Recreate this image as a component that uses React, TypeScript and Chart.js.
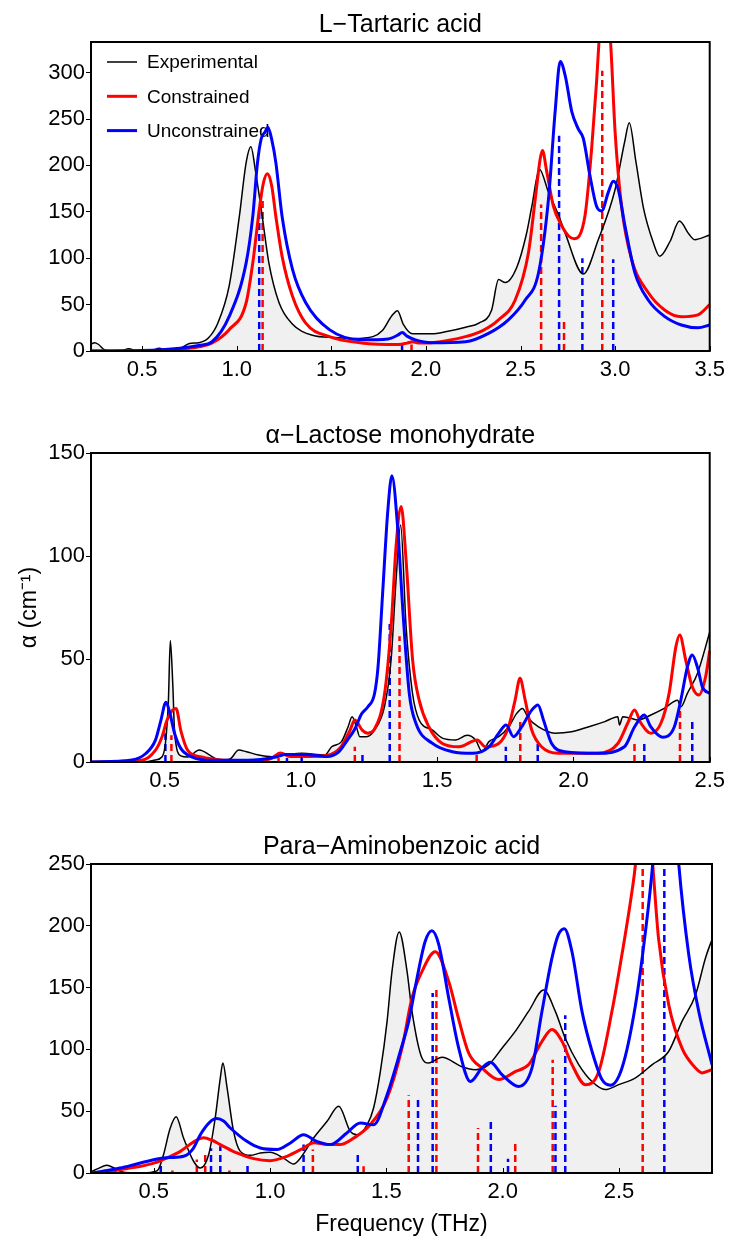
import React, { useEffect, useRef } from 'react';
import { Chart, registerables } from 'chart.js';

Chart.register(...registerables);

const FONT = "'Liberation Sans', Arial, Helvetica, sans-serif";
const RED = '#ff0000';
const BLUE = '#0000ff';
const BLACK = '#000000';
const FILL = '#f0f0f0';

type Pt = [number, number];

// ---------- L-Tartaric acid ----------
const tartaricXTicks = [0.5, 1.0, 1.5, 2.0, 2.5, 3.0, 3.5];
const tartaricYTicks = [0, 50, 100, 150, 200, 250, 300];
const tartaricExperimental: Pt[] = [
  [0.23, 7.5], [0.25, 9], [0.27, 7], [0.3, 1.5], [0.33, 0.3], [0.39, 0.5], [0.43, 2.5], [0.47, 0.5],
  [0.55, 0.5], [0.59, 3], [0.63, 0.8], [0.7, 2.5], [0.75, 8], [0.8, 9], [0.85, 14], [0.9, 30],
  [0.96, 70], [1.014, 145], [1.05, 203], [1.075, 220], [1.1, 193], [1.135, 145], [1.17, 95],
  [1.224, 52], [1.29, 30], [1.4, 17], [1.52, 14.5], [1.62, 13.5], [1.72, 15.5], [1.77, 22],
  [1.82, 38], [1.85, 43.5], [1.88, 29], [1.93, 18.5], [2.03, 18.5], [2.11, 21], [2.21, 25.7],
  [2.28, 30], [2.347, 44], [2.384, 77], [2.42, 73.7], [2.48, 90], [2.53, 125], [2.56, 156],
  [2.6, 196], [2.648, 171], [2.7, 147], [2.736, 127], [2.832, 83], [2.911, 120], [3.0, 174],
  [3.05, 225], [3.075, 246], [3.11, 204], [3.15, 154], [3.2, 118], [3.236, 102], [3.29, 118],
  [3.34, 140], [3.39, 126], [3.42, 120], [3.5, 125],
];
const tartaricConstrained: Pt[] = [
  [0.23, 0], [0.5, 0.3], [0.7, 2], [0.8, 4.5], [0.87, 8.7], [0.96, 23], [1.05, 52], [1.085, 95],
  [1.12, 153], [1.14, 180], [1.162, 191], [1.185, 178], [1.207, 145], [1.24, 102], [1.295, 59],
  [1.365, 30], [1.49, 15.5], [1.66, 8.7], [1.857, 7], [1.9, 8.5], [1.93, 10], [1.96, 8.5],
  [2.03, 9], [2.209, 15.5], [2.3, 22], [2.384, 33.6], [2.472, 55], [2.542, 106], [2.578, 164],
  [2.604, 207], [2.616, 216], [2.639, 193], [2.674, 156], [2.718, 135], [2.754, 124], [2.783, 121],
  [2.841, 146], [2.876, 218], [2.902, 290], [2.915, 333], [2.945, 400], [2.976, 333], [3.0, 236],
  [3.034, 156], [3.087, 99], [3.175, 63], [3.263, 44], [3.35, 37], [3.438, 39], [3.5, 50],
];
const tartaricUnconstrained: Pt[] = [
  [0.23, 0], [0.5, 0.5], [0.7, 3], [0.8, 6], [0.87, 10], [0.96, 37], [1.05, 95], [1.085, 145],
  [1.11, 203], [1.13, 229], [1.15, 236], [1.165, 241], [1.185, 228], [1.207, 203], [1.24, 145],
  [1.295, 88], [1.365, 52], [1.49, 23], [1.66, 12], [1.8, 13], [1.85, 17], [1.875, 20], [1.9, 16],
  [1.945, 12], [2.03, 9], [2.209, 10], [2.331, 19], [2.436, 33.6], [2.525, 55], [2.595, 84],
  [2.648, 164], [2.683, 258], [2.71, 312], [2.736, 297], [2.771, 258], [2.806, 239], [2.832, 229],
  [2.867, 189], [2.902, 156], [2.929, 151], [2.964, 171], [2.99, 183], [3.017, 174], [3.052, 135],
  [3.105, 84], [3.175, 55], [3.263, 37], [3.35, 28], [3.438, 25], [3.5, 28],
];
const tartaricConstrainedModes: Pt[] = [[1.137, 165], [1.924, 7], [2.609, 158], [2.73, 32], [2.932, 302]];
const tartaricUnconstrainedModes: Pt[] = [[1.119, 150], [1.874, 9], [2.704, 232], [2.827, 100], [2.99, 99]];

// ---------- alpha-Lactose monohydrate ----------
const lactoseXTicks = [0.5, 1.0, 1.5, 2.0, 2.5];
const lactoseYTicks = [0, 50, 100, 150];
const lactoseExperimental: Pt[] = [
  [0.23, 0], [0.43, 0], [0.466, 1], [0.49, 2.4], [0.503, 9], [0.514, 30], [0.521, 59], [0.53, 38],
  [0.537, 14], [0.56, 3], [0.585, 2.4], [0.627, 5.8], [0.67, 3], [0.7, 1], [0.74, 1.5], [0.772, 5.8],
  [0.8, 5], [0.845, 3.4], [0.894, 2.6], [0.95, 3.5], [1.003, 4.2], [1.088, 3.4], [1.113, 7.4],
  [1.149, 9.9], [1.173, 17], [1.188, 22], [1.204, 17], [1.216, 12.3], [1.24, 12.3], [1.27, 15.5],
  [1.307, 27], [1.331, 49.5], [1.35, 90], [1.366, 115], [1.386, 66], [1.41, 33], [1.434, 20.4],
  [1.483, 15.5], [1.519, 11.6], [1.568, 10.7], [1.61, 13], [1.641, 10.7], [1.665, 5], [1.69, 9.9],
  [1.726, 12.3], [1.762, 17], [1.792, 23.6], [1.813, 26], [1.835, 21.2], [1.872, 17], [1.932, 14],
  [1.993, 14.7], [2.054, 17], [2.115, 19.6], [2.163, 22], [2.169, 18], [2.181, 22], [2.211, 21.2],
  [2.236, 20.4], [2.284, 22.8], [2.333, 26], [2.382, 30], [2.394, 26.8], [2.418, 33.3], [2.455, 43],
  [2.5, 63],
];
const lactoseConstrained: Pt[] = [
  [0.23, 0], [0.415, 0.8], [0.466, 5.6], [0.49, 12], [0.508, 20], [0.525, 24.5], [0.542, 26],
  [0.56, 15], [0.585, 5.6], [0.636, 2.4], [0.72, 0.8], [0.823, 0.3], [0.89, 1.6], [0.925, 4.4],
  [0.96, 2.7], [1.01, 2.7], [1.096, 3.2], [1.147, 7.3], [1.18, 15.3], [1.198, 20.4], [1.225, 15.5],
  [1.246, 14], [1.27, 16], [1.307, 33], [1.331, 65.7], [1.35, 106], [1.368, 124], [1.386, 98],
  [1.41, 49.5], [1.434, 30], [1.47, 17], [1.519, 9], [1.58, 7.4], [1.647, 10.7], [1.677, 7.4],
  [1.726, 9], [1.762, 17], [1.786, 30], [1.804, 40.6], [1.823, 30], [1.847, 15.5], [1.883, 7.4],
  [1.944, 4.2], [2.09, 4.2], [2.163, 9], [2.199, 18.8], [2.224, 25.2], [2.248, 18.8], [2.284, 14],
  [2.321, 18.8], [2.351, 33.3], [2.376, 56], [2.39, 61.7], [2.412, 49.5], [2.436, 36.5],
  [2.46, 32.5], [2.485, 41.4], [2.5, 54],
];
const lactoseUnconstrained: Pt[] = [
  [0.23, 0], [0.38, 1], [0.43, 4], [0.466, 10.5], [0.486, 20], [0.505, 29], [0.52, 23.4],
  [0.537, 13.7], [0.56, 6.5], [0.602, 2.4], [0.67, 0.8], [0.806, 0.8], [0.908, 2.4], [0.943, 3.7],
  [1.01, 3.7], [1.096, 2.7], [1.138, 4.8], [1.17, 10.5], [1.198, 16], [1.223, 23.4], [1.246, 26.8],
  [1.27, 33], [1.283, 46], [1.3, 82], [1.319, 122], [1.334, 139], [1.355, 114], [1.374, 74],
  [1.398, 33], [1.422, 18.8], [1.483, 9], [1.556, 5], [1.629, 4.2], [1.69, 7.4], [1.726, 14],
  [1.753, 18], [1.78, 12.3], [1.81, 17], [1.847, 25.2], [1.87, 27.7], [1.89, 20.4], [1.92, 9],
  [1.968, 5], [2.09, 4.2], [2.187, 7.4], [2.224, 17], [2.26, 22.8], [2.284, 17], [2.327, 12],
  [2.37, 17], [2.394, 30], [2.418, 46], [2.436, 52], [2.455, 46], [2.473, 36.5], [2.5, 33.3],
];
const lactoseConstrainedModes: Pt[] = [
  [0.525, 13], [0.918, 2], [1.198, 7.4], [1.362, 61], [1.645, 3.4], [1.805, 19.6], [2.224, 9.9], [2.391, 26],
];
const lactoseUnconstrainedModes: Pt[] = [
  [0.503, 14], [0.949, 2], [1.003, 2], [1.226, 5], [1.326, 67], [1.752, 7.4], [1.869, 9], [2.26, 9], [2.436, 20.4],
];

// ---------- Para-Aminobenzoic acid ----------
const pabaXTicks = [0.5, 1.0, 1.5, 2.0, 2.5];
const pabaYTicks = [0, 50, 100, 150, 200, 250];
const pabaExperimental: Pt[] = [
  [0.23, 1], [0.26, 3.5], [0.298, 6.2], [0.33, 4], [0.36, 1], [0.4, 0.2], [0.47, 0.2], [0.5, 1],
  [0.52, 3], [0.542, 15], [0.57, 36], [0.596, 45.5], [0.628, 28.3], [0.671, 9.5], [0.7, 4],
  [0.736, 15], [0.764, 44.5], [0.786, 77], [0.797, 89], [0.815, 69], [0.843, 33.7], [0.872, 17.5],
  [0.915, 14.3], [0.958, 16.2], [1.0, 16.7], [1.058, 12], [1.101, 7.3], [1.13, 12], [1.187, 28.3],
  [1.245, 41.8], [1.295, 54], [1.345, 33.7], [1.373, 31], [1.417, 39], [1.445, 52.6], [1.474, 82],
  [1.503, 122.7], [1.524, 163], [1.555, 195], [1.589, 163], [1.61, 131], [1.653, 93], [1.681, 89],
  [1.739, 93.6], [1.825, 86], [1.882, 83.6], [1.94, 87.7], [1.997, 101], [2.054, 114.6],
  [2.112, 131], [2.176, 148], [2.226, 131], [2.269, 109], [2.327, 87.7], [2.384, 74], [2.441, 67.5],
  [2.499, 71.5], [2.571, 77], [2.643, 87.7], [2.714, 98.5], [2.771, 122.7], [2.829, 144],
  [2.872, 174], [2.9, 189],
];
const pabaConstrained: Pt[] = [
  [0.23, 0], [0.3, 1], [0.355, 2.7], [0.43, 5], [0.5, 8], [0.56, 12.5], [0.614, 17.5], [0.67, 25],
  [0.714, 28.5], [0.75, 26.5], [0.786, 23], [0.857, 16.2], [0.929, 11.6], [1.0, 10], [1.072, 13.5],
  [1.144, 20.2], [1.187, 24.5], [1.245, 23], [1.302, 23], [1.36, 28.3], [1.43, 39], [1.503, 60.7],
  [1.567, 101], [1.61, 141.6], [1.653, 163], [1.71, 179], [1.768, 155], [1.81, 125], [1.854, 97],
  [1.911, 85], [1.983, 75.6], [2.054, 82], [2.112, 87.7], [2.169, 106.5], [2.212, 116],
  [2.255, 106.5], [2.298, 87.7], [2.356, 71.5], [2.413, 82], [2.47, 131], [2.513, 177], [2.556, 228],
  [2.571, 250], [2.607, 340], [2.645, 250], [2.67, 190], [2.714, 136], [2.771, 101], [2.829, 85],
  [2.857, 81], [2.9, 83.6],
];
const pabaUnconstrained: Pt[] = [
  [0.23, 0], [0.3, 2], [0.355, 4], [0.43, 7.5], [0.52, 11.6], [0.57, 12.5], [0.628, 13.5], [0.67, 20],
  [0.7, 31], [0.74, 41], [0.771, 44], [0.8, 42], [0.829, 36.4], [0.9, 25.6], [0.958, 20.2], [1.03, 19],
  [1.087, 24.3], [1.144, 31], [1.2, 25.6], [1.259, 23], [1.33, 32.4], [1.388, 40.5], [1.445, 39],
  [1.503, 63.4], [1.56, 98.5], [1.596, 122.7], [1.632, 158], [1.667, 187.5], [1.696, 196],
  [1.725, 185], [1.768, 141.6], [1.811, 101], [1.861, 74], [1.911, 85], [1.947, 89.6], [1.997, 79.6],
  [2.069, 70], [2.126, 85], [2.169, 130.8], [2.212, 174], [2.24, 193], [2.265, 197.7], [2.298, 179],
  [2.341, 130.8], [2.384, 98.5], [2.427, 75.6], [2.463, 71], [2.513, 85], [2.571, 136],
  [2.614, 195.6], [2.645, 250], [2.7, 400], [2.757, 250], [2.8, 176.7], [2.843, 130.8], [2.9, 87.7],
];
const pabaConstrainedModes: Pt[] = [
  [0.58, 2], [0.685, 11], [0.721, 15], [0.825, 2], [1.184, 19], [1.402, 5.4], [1.596, 63], [1.715, 151],
  [1.894, 36.4], [2.054, 24.3], [2.215, 91.7], [2.602, 260],
];
const pabaUnconstrainedModes: Pt[] = [
  [0.53, 7], [0.746, 20], [0.786, 21.6], [0.903, 8], [1.144, 23], [1.377, 17.5], [1.636, 62],
  [1.699, 145.6], [1.949, 44.5], [2.023, 11.6], [2.227, 54.5], [2.269, 127.6], [2.695, 260],
];

type Spec = {
  title: string;
  xMin: number;
  xMax: number;
  yMax: number;
  xTicks: number[];
  yTicks: number[];
  exp: Pt[];
  con: Pt[];
  unc: Pt[];
  conModes: Pt[];
  uncModes: Pt[];
  legend: boolean;
  yTitle?: string;
  xTitle?: string;
};

const SPECS: Spec[] = [
  {
    title: 'L\u2212Tartaric acid', xMin: 0.23, xMax: 3.5, yMax: 333,
    xTicks: tartaricXTicks, yTicks: tartaricYTicks,
    exp: tartaricExperimental, con: tartaricConstrained, unc: tartaricUnconstrained,
    conModes: tartaricConstrainedModes, uncModes: tartaricUnconstrainedModes, legend: true,
  },
  {
    title: '\u03b1\u2212Lactose monohydrate', xMin: 0.23, xMax: 2.5, yMax: 150,
    xTicks: lactoseXTicks, yTicks: lactoseYTicks,
    exp: lactoseExperimental, con: lactoseConstrained, unc: lactoseUnconstrained,
    conModes: lactoseConstrainedModes, uncModes: lactoseUnconstrainedModes, legend: false,
    yTitle: '\u03b1 (cm\u207b\u00b9)',
  },
  {
    title: 'Para\u2212Aminobenzoic acid', xMin: 0.23, xMax: 2.9, yMax: 250,
    xTicks: pabaXTicks, yTicks: pabaYTicks,
    exp: pabaExperimental, con: pabaConstrained, unc: pabaUnconstrained,
    conModes: pabaConstrainedModes, uncModes: pabaUnconstrainedModes, legend: false,
    xTitle: 'Frequency (THz)',
  },
];

const PLOT_LEFT = 91;
const PLOT_RIGHT_PAD = 19;
const PLOT_BOTTOM = 351;

const framePlugin = {
  id: 'frame',
  afterDraw(chart: any) {
    const { ctx, chartArea: a, scales } = chart;
    ctx.save();
    ctx.strokeStyle = '#000';
    ctx.lineWidth = 2;
    ctx.strokeRect(a.left, a.top, a.right - a.left, a.bottom - a.top);
    const xs = scales.x;
    ctx.lineWidth = 1;
    xs.ticks.forEach((t: any) => {
      const px = Math.round(xs.getPixelForValue(t.value)) + 0.5;
      ctx.beginPath();
      ctx.moveTo(px, a.bottom);
      ctx.lineTo(px, a.bottom - 5);
      ctx.stroke();
    });
    ctx.restore();
  },
};

// Legend inside the plot area, drawn beneath the curves (like the reference)
const insetLegendPlugin = {
  id: 'insetLegend',
  beforeDatasetsDraw(chart: any, _args: any, opts: any) {
    if (!opts || !opts.show) return;
    const { ctx, chartArea: a } = chart;
    const items = chart.data.datasets.slice(0, 3);
    ctx.save();
    ctx.font = `19px ${FONT}`;
    ctx.textBaseline = 'middle';
    ctx.textAlign = 'left';
    items.forEach((ds: any, i: number) => {
      const y = a.top + 20 + i * 34.3;
      const x0 = a.left + 16;
      ctx.strokeStyle = ds.borderColor;
      ctx.lineWidth = ds.borderWidth;
      ctx.setLineDash([]);
      ctx.beginPath();
      ctx.moveTo(x0, y);
      ctx.lineTo(x0 + 30, y);
      ctx.stroke();
      ctx.fillStyle = '#000';
      ctx.fillText(ds.label, x0 + 40, y + 1);
    });
    ctx.restore();
  },
};

function buildConfig(spec: Spec, height: number): any {
  const toXY = (pts: Pt[]) => pts.map(([x, y]) => ({ x, y }));
  const sticks = (pts: Pt[]) => {
    const out: any[] = [];
    pts.forEach(([x, h]) => {
      out.push({ x, y: 0 }, { x, y: h }, { x, y: null });
    });
    return out;
  };
  const datasets: any[] = [
    {
      label: 'Experimental', data: toXY(spec.exp), borderColor: BLACK, borderWidth: 1.5,
      backgroundColor: FILL, fill: 'origin', pointRadius: 0, cubicInterpolationMode: 'monotone',
      order: 2, clip: 1,
    },
    {
      label: 'Constrained', data: toXY(spec.con), borderColor: RED, borderWidth: 3,
      fill: false, pointRadius: 0, cubicInterpolationMode: 'monotone', order: 1, clip: 1,
    },
    {
      label: 'Unconstrained', data: toXY(spec.unc), borderColor: BLUE, borderWidth: 3,
      fill: false, pointRadius: 0, cubicInterpolationMode: 'monotone', order: 0, clip: 1,
    },
    {
      label: 'Constrained modes', data: sticks(spec.conModes), borderColor: RED, borderWidth: 2.5,
      borderDash: [7, 4], fill: false, pointRadius: 0, tension: 0, spanGaps: false, order: 3, clip: 0,
    },
    {
      label: 'Unconstrained modes', data: sticks(spec.uncModes), borderColor: BLUE, borderWidth: 2.5,
      borderDash: [7, 4], fill: false, pointRadius: 0, tension: 0, spanGaps: false, order: 3, clip: 0,
    },
  ];
  return {
    type: 'line',
    data: { datasets },
    options: {
      responsive: false,
      animation: false,
      events: [],
      layout: { padding: { left: 0, right: PLOT_RIGHT_PAD, top: 0, bottom: 0 } },
      plugins: {
        filler: { drawTime: 'beforeDatasetsDraw' },
        tooltip: { enabled: false },
        legend: { display: false },
        insetLegend: { show: spec.legend },
        title: {
          display: true, text: spec.title, fullSize: false, color: '#000',
          font: { family: FONT, size: 25, weight: 'normal' },
          padding: { top: 10, bottom: 2 },
        },
      },
      scales: {
        x: {
          type: 'linear', min: spec.xMin, max: spec.xMax,
          afterBuildTicks: (s: any) => { s.ticks = spec.xTicks.map((v) => ({ value: v })); },
          afterFit: (s: any) => { s.height = height - PLOT_BOTTOM; },
          grid: { display: false, drawTicks: false },
          border: { display: false },
          ticks: {
            color: '#000', font: { family: FONT, size: 22 }, padding: 6, maxRotation: 0,
            autoSkip: false, callback: (v: any) => Number(v).toFixed(1),
          },
          title: {
            display: !!spec.xTitle, text: spec.xTitle || '', color: '#000',
            font: { family: FONT, size: 23 }, padding: { top: 0, bottom: 0 },
          },
        },
        y: {
          type: 'linear', min: 0, max: spec.yMax,
          afterBuildTicks: (s: any) => { s.ticks = spec.yTicks.map((v) => ({ value: v })); },
          afterFit: (s: any) => { s.width = PLOT_LEFT; },
          grid: { display: true, drawOnChartArea: false, drawTicks: true, tickLength: 5, color: '#000', lineWidth: 1 },
          border: { display: false },
          ticks: {
            color: '#000', font: { family: FONT, size: 22 }, padding: 1, autoSkip: false,
            callback: (v: any) => String(v),
          },
          title: {
            display: !!spec.yTitle, text: spec.yTitle || '', color: '#000',
            font: { family: FONT, size: 23 }, padding: { top: 16, bottom: 0 },
          },
        },
      },
    },
    plugins: [framePlugin, insetLegendPlugin],
  };
}

function Panel({ spec, top, height }: { spec: Spec; top: number; height: number }) {
  const ref = useRef<HTMLCanvasElement>(null);
  useEffect(() => {
    if (!ref.current) return;
    const chart = new Chart(ref.current, buildConfig(spec, height));
    return () => chart.destroy();
  }, [spec, height]);
  return (
    <canvas
      ref={ref}
      width={731}
      height={height}
      style={{ position: 'absolute', left: 0, top, width: 731, height, display: 'block' }}
    />
  );
}

const PANEL_TOPS = [0, 411, 822];
const PANEL_HEIGHTS = [411, 411, 416];

export default function App() {
  return (
    <div style={{ position: 'absolute', left: 0, top: 0, width: 731, height: 1238, background: '#fff', overflow: 'hidden' }}>
      {SPECS.map((s, i) => (
        <Panel key={i} spec={s} top={PANEL_TOPS[i]} height={PANEL_HEIGHTS[i]} />
      ))}
    </div>
  );
}
